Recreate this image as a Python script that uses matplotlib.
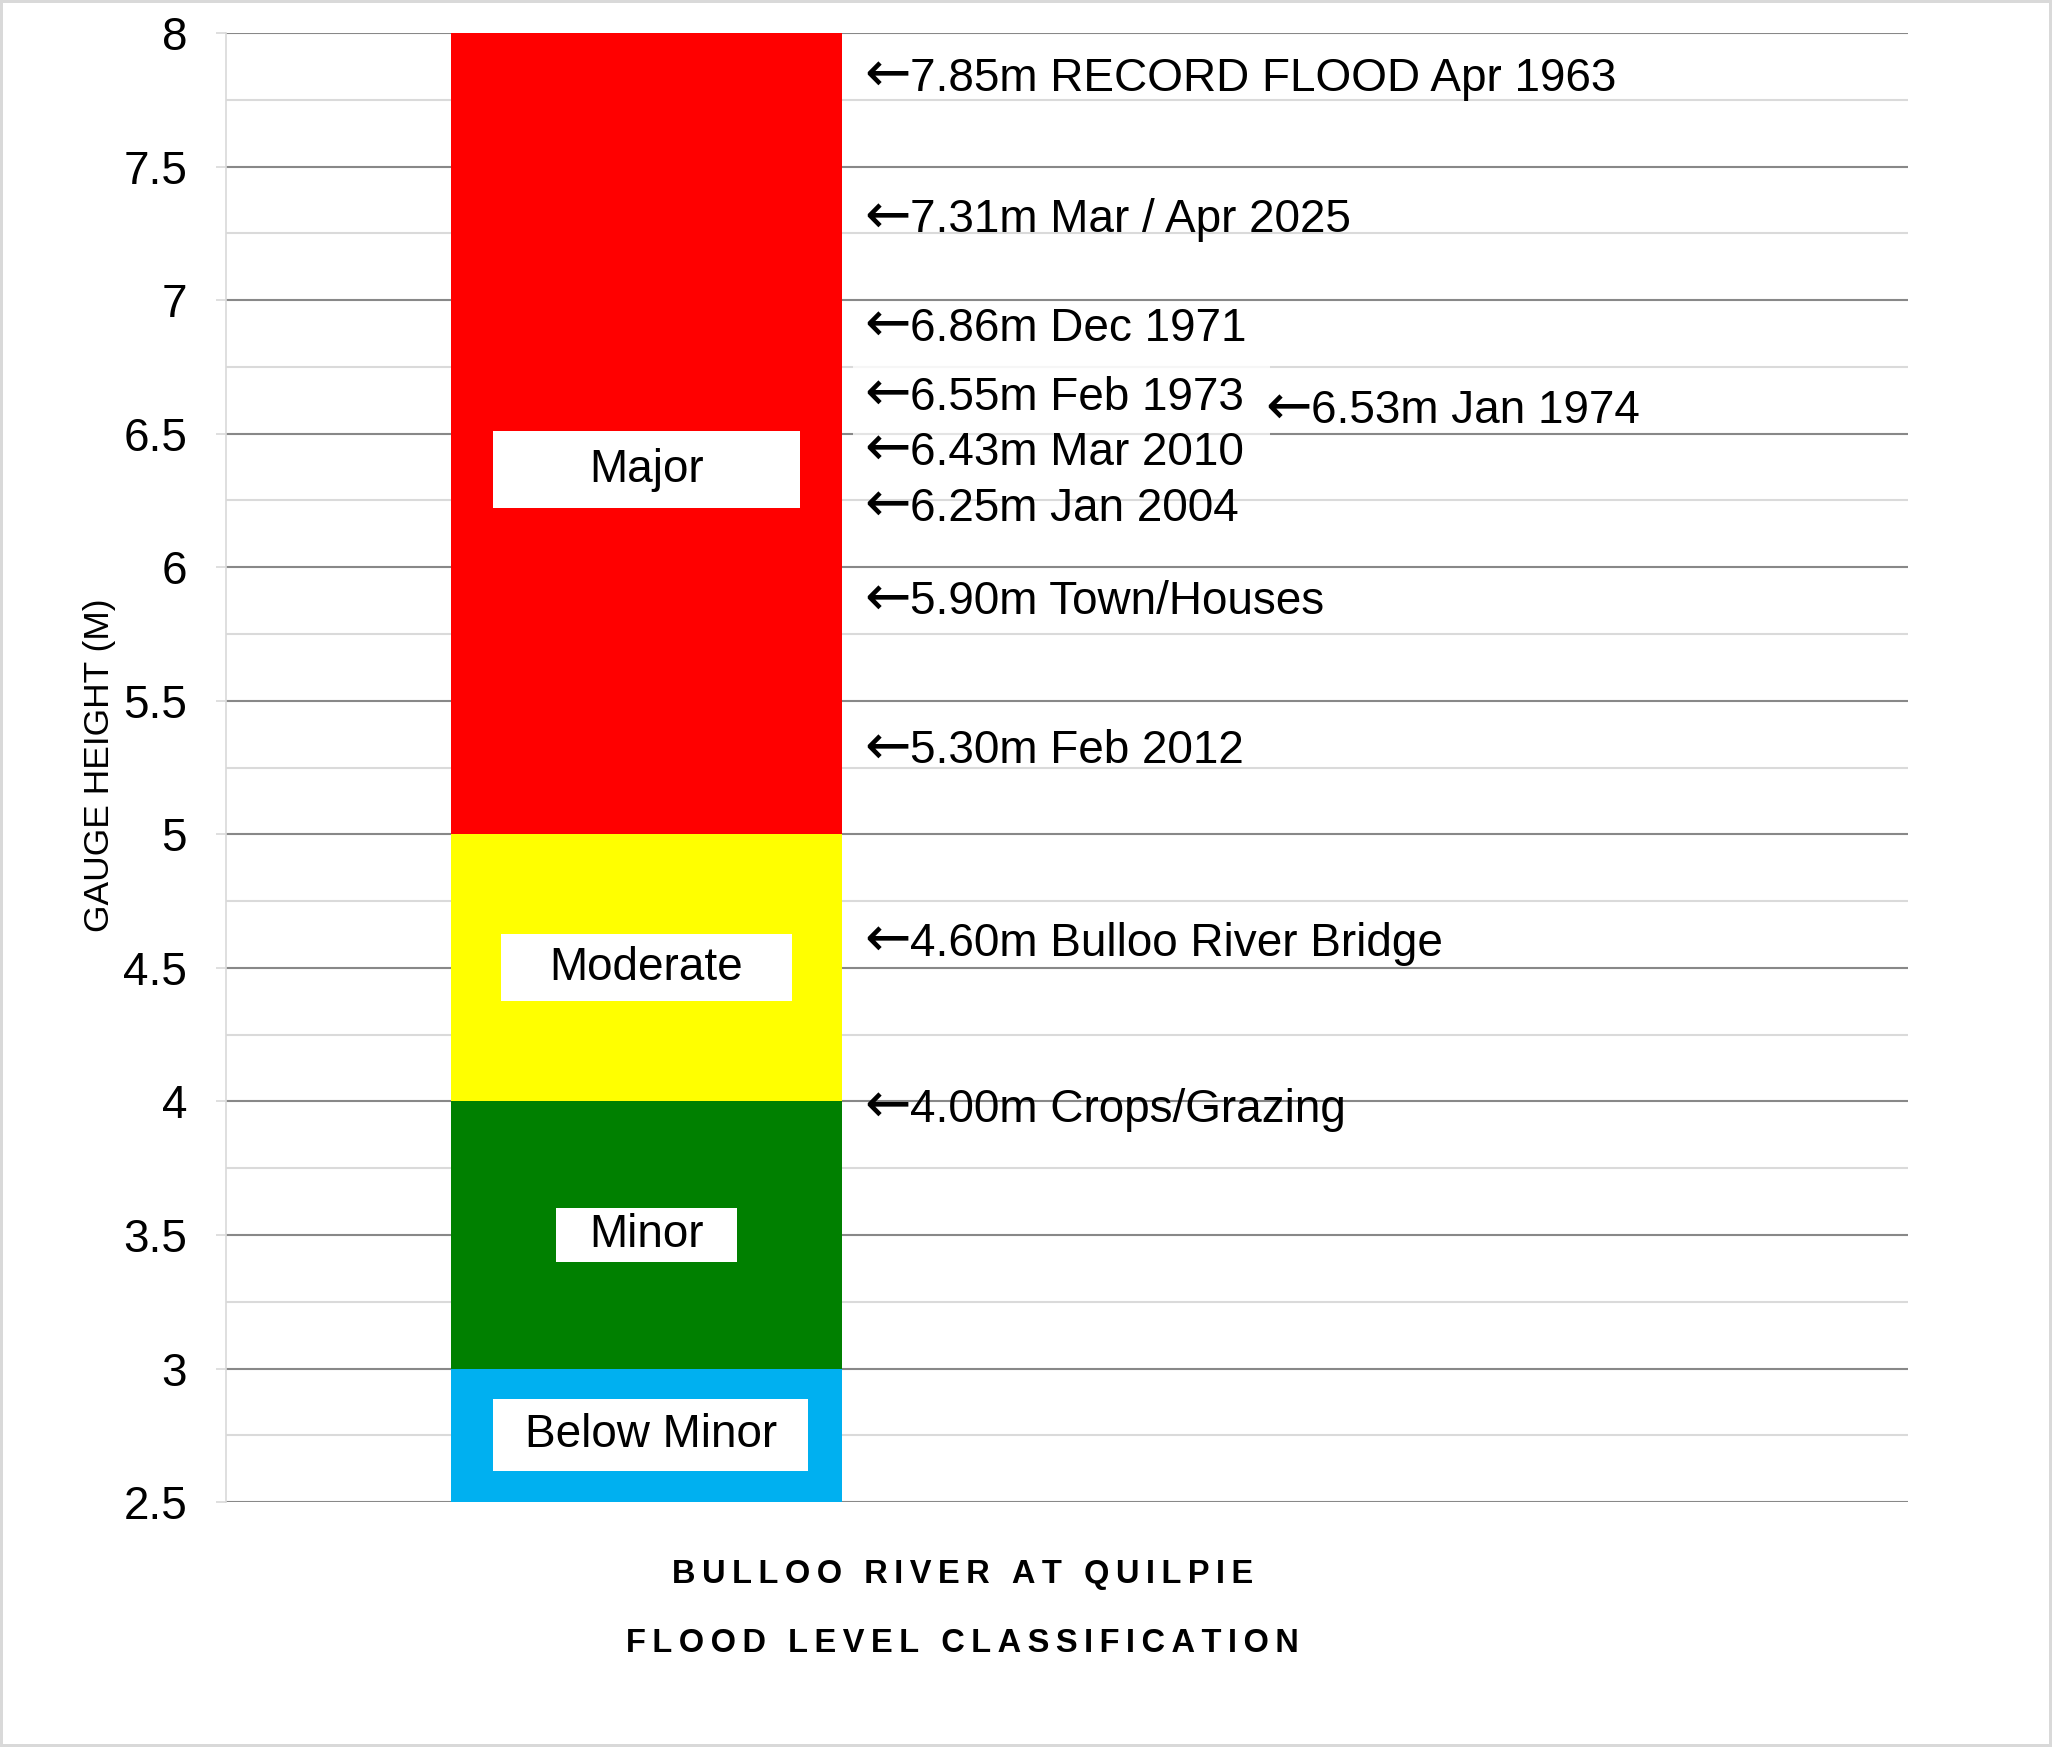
import matplotlib
matplotlib.use('Agg')
from matplotlib import pyplot as plt
from matplotlib.patches import Rectangle
from matplotlib.transforms import Bbox
from matplotlib.ticker import MultipleLocator, FuncFormatter
import numpy as np

# flood classification bands (gauge height, m)
band_names = ['Below Minor', 'Minor', 'Moderate', 'Major']
band_bottoms = [2.5, 3.0, 4.0, 5.0]
band_tops = [3.0, 4.0, 5.0, 8.0]

# recorded levels / impacts
event_levels = [7.85, 7.31, 6.86, 6.55, 6.53, 6.43, 6.25, 5.90, 5.30, 4.60, 4.00]
event_names = ['RECORD FLOOD Apr 1963', 'Mar / Apr 2025', 'Dec 1971', 'Feb 1973',
               'Jan 1974', 'Mar 2010', 'Jan 2004', 'Town/Houses', 'Feb 2012',
               'Bulloo River Bridge', 'Crops/Grazing']

title_lines = ['BULLOO RIVER AT QUILPIE', 'FLOOD LEVEL CLASSIFICATION']
ylabel = 'GAUGE HEIGHT (M)'

# styling / layout
band_colors = ['#00b0f0', '#008000', '#ffff00', '#ff0000']
label_box = {'Below Minor': (0.75, 0.27), 'Minor': (0.43, 0.20),
             'Moderate': (0.69, 0.25), 'Major': (0.73, 0.29)}
label_shift = {'Major': -0.135}
label_dx = {'Below Minor': 0.01}
# hand placement nudges so crowded labels don't collide
event_shift = {7.85: 0.01, 7.31: 0.021, 6.86: 0.065, 6.55: 0.115, 6.53: 0.086,
               6.43: 0.03, 5.30: 0.043, 4.60: 0.023}
event_x = {6.53: 2.476}
boxed = [6.55, 6.43]
FS = 33

plt.rcParams['font.family'] = ['Liberation Sans', 'DejaVu Sans']

fig = plt.figure(figsize=(20.52, 17.47), dpi=100)
fig.patch.set_edgecolor('#d9d9d9')
fig.patch.set_linewidth(3)
ax = fig.add_axes([0.1101, 0.1402, 0.8197, 0.8409])

bar_x = 1.0
for name, lo, hi, c in zip(band_names, band_bottoms, band_tops, band_colors):
    ax.bar(bar_x, hi - lo, bottom=lo, width=0.93, color=c, zorder=2)
    w, h = label_box[name]
    xc = bar_x + label_dx.get(name, 0)
    yc = (lo + hi) / 2 + label_shift.get(name, 0)
    ax.add_patch(Rectangle((xc - w / 2, yc - h / 2), w, h, facecolor='white',
                           edgecolor='none', zorder=3))
    ax.text(xc, yc, name, ha='center', va='center', fontsize=FS, zorder=4)

pairs = []
for lvl, name in zip(event_levels, event_names):
    xy = (event_x.get(lvl, 1.522), lvl + event_shift.get(lvl, 0))
    arr = ax.annotate('\u2190', xy=xy, xytext=(-1, -14.8), textcoords='offset points',
                      ha='left', va='baseline', fontsize=40, family='DejaVu Sans', zorder=5)
    txt = ax.annotate('%.2fm %s' % (lvl, name), xy=xy, xytext=(31.7, -14.8),
                      textcoords='offset points', ha='left', va='baseline',
                      fontsize=FS, zorder=5)
    if lvl in boxed:
        pairs.append((arr, txt))

ax.set_xlim(0, 4)
ax.set_ylim(2.5, 8)
ax.set_xticks([])
ax.yaxis.set_major_locator(MultipleLocator(0.5))
ax.yaxis.set_minor_locator(MultipleLocator(0.25))
ax.yaxis.set_major_formatter(FuncFormatter(lambda v, p: '%g' % v))
ax.set_axisbelow(True)
ax.grid(which='major', axis='y', color='#888888', lw=1.5)
ax.grid(which='minor', axis='y', color='#dadada', lw=1.5)
ax.tick_params(axis='y', which='major', length=7, color='#d9d9d9', width=1.2,
               labelsize=FS, pad=21)
ax.tick_params(axis='y', which='minor', length=0)
for s in ['top', 'right', 'bottom']:
    ax.spines[s].set_visible(False)
ax.spines['left'].set_color('#d9d9d9')
ax.spines['left'].set_linewidth(1.2)

# translucent white boxes behind two crowded labels
fig.canvas.draw()
rend = fig.canvas.get_renderer()
inv = ax.transData.inverted()
for arr, txt in pairs:
    bb = Bbox.union([arr.get_window_extent(rend), txt.get_window_extent(rend)])
    (x0, y0), (x1, y1) = inv.transform([(bb.x0 - 12, bb.y0 - 10), (bb.x1 + 26, bb.y1 + 10)])
    ax.add_patch(Rectangle((x0, y0), x1 - x0, y1 - y0, facecolor='white', alpha=0.78,
                           edgecolor='none', zorder=4.5))

fig.text(0.0484, 0.562, ylabel, rotation=90, ha='center', va='center', fontsize=25.5)

for i, line in enumerate(title_lines):
    fig.text(0.469, 0.0985 - i * 0.039, '\u2009'.join(line), ha='center', va='center',
             fontsize=23.5, fontweight='bold')

fig.savefig('out.png', dpi=100)
